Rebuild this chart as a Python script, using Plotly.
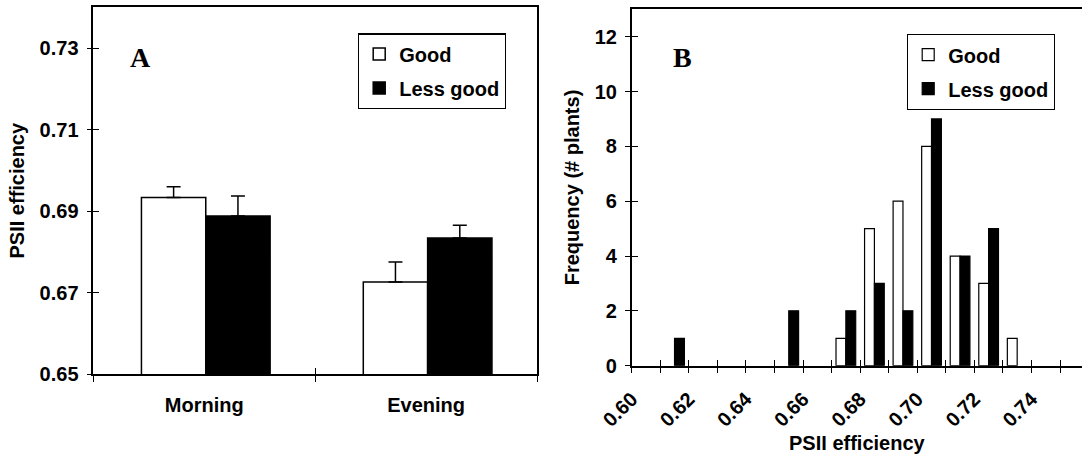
import plotly.graph_objects as go

# ---------------- data ----------------
periods = ["Morning", "Evening"]
good_mean = [0.6933, 0.6726]
good_err = [0.0027, 0.0049]
less_mean = [0.6888, 0.6834]
less_err = [0.0049, 0.0031]

bin_centers = [0.605, 0.615, 0.625, 0.635, 0.645, 0.655, 0.665, 0.675,
               0.685, 0.695, 0.705, 0.715, 0.725, 0.735, 0.745]
good_freq = [0, 0, 0, 0, 0, 0, 0, 1, 5, 6, 8, 4, 3, 1, 0]
less_freq = [0, 1, 0, 0, 0, 2, 0, 2, 3, 2, 9, 4, 5, 0, 0]

a_ticks = [0.65, 0.67, 0.69, 0.71, 0.73]
b_yticks = [0, 2, 4, 6, 8, 10, 12]
b_xticks = [0.60, 0.61, 0.62, 0.63, 0.64, 0.65, 0.66, 0.67, 0.68, 0.69,
            0.70, 0.71, 0.72, 0.73, 0.74, 0.75]
b_xlabels = ["0.60", "", "0.62", "", "0.64", "", "0.66", "", "0.68", "",
             "0.70", "", "0.72", "", "0.74", ""]

# ---------------- layout geometry ----------------
W, H = 1082, 455
FONT = "Liberation Sans, Arial, sans-serif"
BLACK = "#000000"
FS = 20

def px_x(p):
    return p / W

def px_y(p):
    return 1 - p / H

def nz(vals):
    # empty bins are not drawn as bars
    return [v if v else None for v in vals]

a_dom_x = [px_x(93.3), px_x(537)]
a_dom_y = [px_y(374), px_y(7.4)]
b_dom_x = [px_x(631.7), 1.0]
b_dom_y = [px_y(365.7), px_y(9.3)]

fig = go.Figure()

# Panel A bars
fig.add_trace(go.Bar(
    x=periods, y=good_mean, name="Good",
    marker=dict(color="white", line=dict(color=BLACK, width=1.5)),
    width=0.29, offset=-0.283,
    error_y=dict(type="data", array=good_err, arrayminus=[0, 0], symmetric=False,
                 color=BLACK, thickness=1.5, width=7),
    xaxis="x", yaxis="y", legend="legend", legendgroup="ag",
))
fig.add_trace(go.Bar(
    x=periods, y=less_mean, name="Less good",
    marker=dict(color=BLACK, line=dict(color=BLACK, width=1.5)),
    width=0.29, offset=0.007,
    error_y=dict(type="data", array=less_err, arrayminus=[0, 0], symmetric=False,
                 color=BLACK, thickness=1.5, width=7),
    xaxis="x", yaxis="y", legend="legend", legendgroup="al",
))

# Panel B histogram bars
bw = 0.00345
fig.add_trace(go.Bar(
    x=bin_centers, y=nz(good_freq), name="Good",
    marker=dict(color="white", line=dict(color=BLACK, width=1.2)),
    width=bw, offset=-bw,
    xaxis="x2", yaxis="y2", legend="legend2", legendgroup="bg",
))
fig.add_trace(go.Bar(
    x=bin_centers, y=nz(less_freq), name="Less good",
    marker=dict(color=BLACK, line=dict(color=BLACK, width=1.2)),
    width=bw, offset=0,
    xaxis="x2", yaxis="y2", legend="legend2", legendgroup="bl",
))

# empty traces for the overlaid "inside tick" axes (crossing tick marks)
fig.add_trace(go.Scatter(x=[None], y=[None], xaxis="x3", yaxis="y3",
                         showlegend=False, hoverinfo="skip"))
fig.add_trace(go.Scatter(x=[None], y=[None], xaxis="x4", yaxis="y4",
                         showlegend=False, hoverinfo="skip"))

axis_common = dict(showgrid=False, zeroline=False, linecolor=BLACK, linewidth=1.5,
                   tickcolor=BLACK, tickwidth=1.2, automargin=False,
                   tickfont=dict(family=FONT, size=FS, color=BLACK, weight="bold"))
ghost_common = dict(showgrid=False, zeroline=False, showline=False, showticklabels=False,
                    ticks="inside", ticklen=6, tickcolor=BLACK, tickwidth=1.2,
                    tickmode="array", automargin=False)
title_font = dict(family=FONT, size=FS, color=BLACK, weight="bold")

fig.update_layout(
    width=W, height=H,
    margin=dict(l=0, r=0, t=0, b=0),
    paper_bgcolor="white", plot_bgcolor="white",
    font=dict(family=FONT, size=FS, color=BLACK, weight="bold"),
    barmode="overlay",
    showlegend=True,
    xaxis=dict(**axis_common, domain=a_dom_x, anchor="y", type="category",
               range=[-0.5, 1.5], tickson="boundaries", ticks="outside", ticklen=6,
               showline=True, mirror=True, ticklabelstandoff=12),
    yaxis=dict(**axis_common, domain=a_dom_y, anchor="x", range=[0.65, 0.74],
               tickmode="array", tickvals=a_ticks, tickformat=".2f",
               ticks="outside", ticklen=5, showline=True, mirror=True,
               ticklabelstandoff=4,
               title=dict(text="PSII efficiency", standoff=10, font=title_font)),
    xaxis3=dict(**ghost_common, overlaying="x", anchor="y3", range=[-0.5, 1.5],
                tickvals=[-0.5, 0.5, 1.5]),
    yaxis3=dict(**ghost_common, overlaying="y", anchor="x3", range=[0.65, 0.74],
                tickvals=a_ticks),
    xaxis2=dict(**axis_common, domain=b_dom_x, anchor="y2", range=[0.60, 0.7577],
                tickmode="array", tickvals=b_xticks, ticktext=b_xlabels,
                tickangle=-45, ticks="outside", ticklen=6, showline=True, mirror=True,
                ticklabelstandoff=6,
                title=dict(text="PSII efficiency", standoff=6, font=title_font)),
    yaxis2=dict(**axis_common, domain=b_dom_y, anchor="x2", range=[0, 13],
                tickmode="array", tickvals=b_yticks, ticks="outside", ticklen=5,
                showline=True, mirror=False, ticklabelstandoff=4,
                title=dict(text="Frequency (# plants)", standoff=10, font=title_font)),
    xaxis4=dict(**ghost_common, overlaying="x2", anchor="y4", range=[0.60, 0.7577],
                tickvals=b_xticks),
    yaxis4=dict(**ghost_common, overlaying="y2", anchor="x4", range=[0, 13],
                tickvals=b_yticks),
    legend=dict(x=px_x(506), xanchor="right", y=px_y(33.3), yanchor="top",
                bgcolor="white", bordercolor=BLACK, borderwidth=1.2,
                traceorder="grouped", tracegroupgap=5, itemwidth=30,
                font=dict(family=FONT, size=FS, color=BLACK, weight="bold")),
    legend2=dict(x=px_x(1055), xanchor="right", y=px_y(34), yanchor="top",
                 bgcolor="white", bordercolor=BLACK, borderwidth=1.2,
                 traceorder="grouped", tracegroupgap=5, itemwidth=30,
                 font=dict(family=FONT, size=FS, color=BLACK, weight="bold")),
    annotations=[
        dict(text="A", x=px_x(140.3), y=px_y(57.6), xref="paper", yref="paper",
             xanchor="center", yanchor="middle", showarrow=False,
             font=dict(family="Liberation Serif, Times New Roman, serif", size=28,
                       color=BLACK, weight="bold")),
        dict(text="B", x=px_x(682), y=px_y(58), xref="paper", yref="paper",
             xanchor="center", yanchor="middle", showarrow=False,
             font=dict(family="Liberation Serif, Times New Roman, serif", size=28,
                       color=BLACK, weight="bold")),
    ],
)

fig.write_html("out.html")
